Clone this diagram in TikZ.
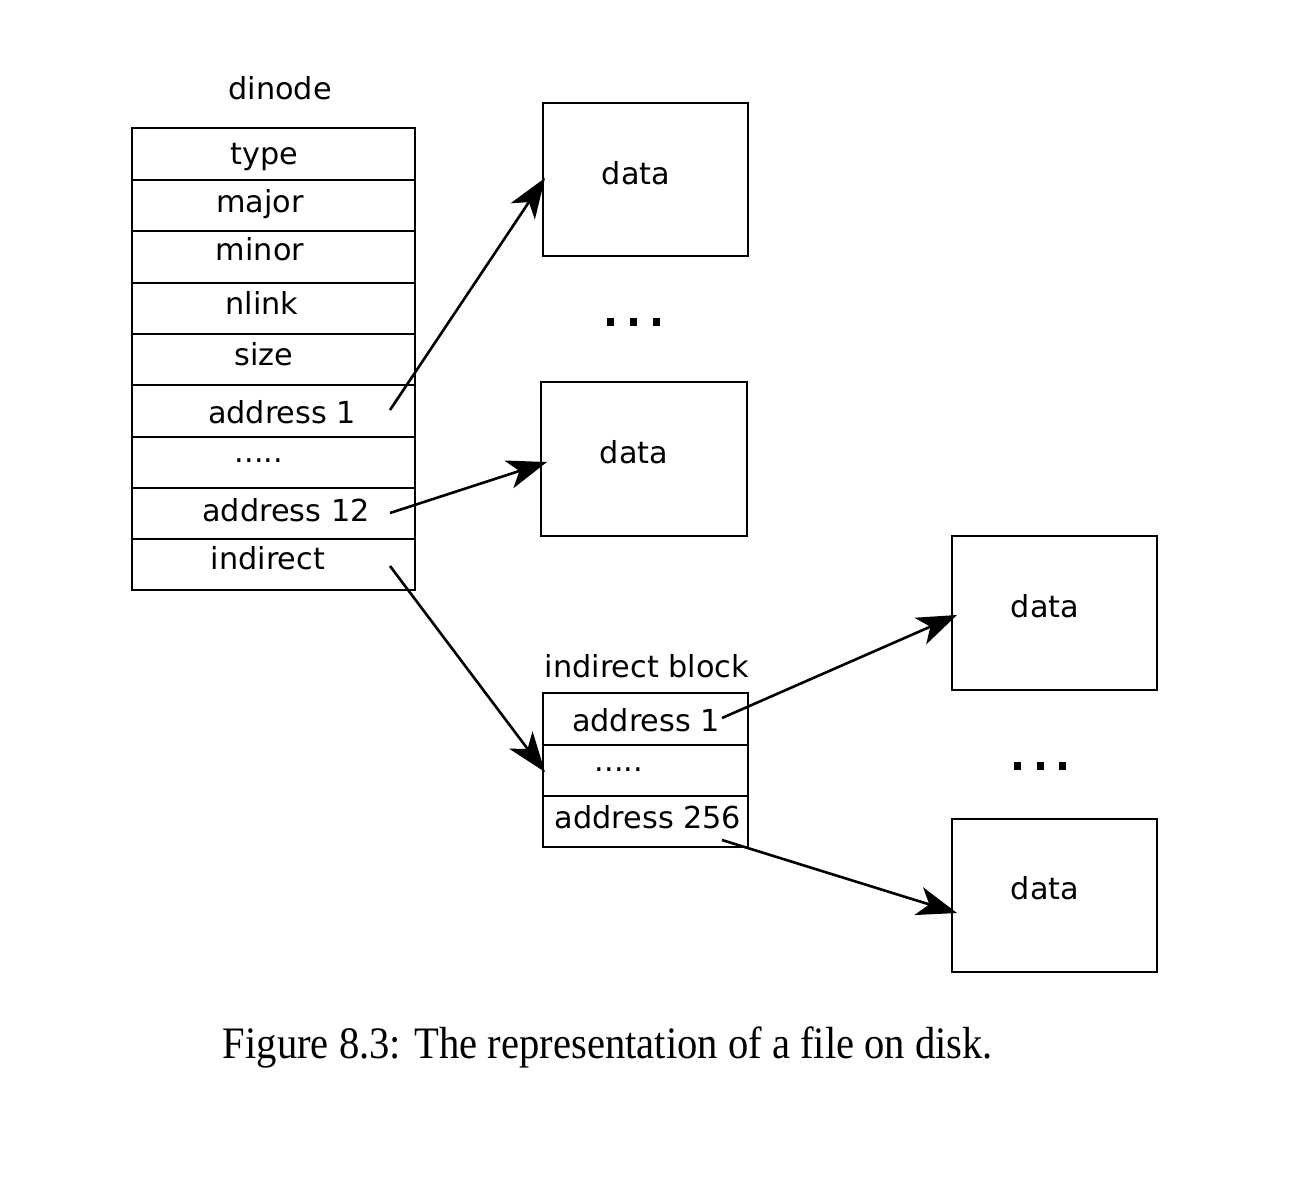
\documentclass[tikz,border=0pt]{standalone}
\usepackage{fontspec}
\usepackage{graphicx}
\setmainfont{DejaVu Sans}
\newfontfamily\capfont{Liberation Serif}
\usetikzlibrary{arrows.meta}
\tikzset{
  lbl/.style={anchor=base, inner sep=0pt, font=\fontsize{30.3}{30}\selectfont},
  outer/.style={draw, line width=2.8pt},
  inner/.style={line width=1.4pt},
  ptr/.style={line width=2.6pt, -{Stealth[length=40pt, width=29pt, inset=11pt]}},
  bigdot/.style={fill=black, minimum width=7pt, minimum height=8pt, inner sep=0pt},
}
\begin{document}
\begin{tikzpicture}[x=1pt, y=-1pt]
\useasboundingbox (0,0) rectangle (1301,1195);
% dinode
\node[lbl] (dn) at (280,99) {dinode};
\foreach \yy in {180,231,283,334,385,437,488,539} \draw[inner] (132,\yy) -- (415,\yy);
\draw[outer] (132,128) rectangle (415,590);
\node[lbl] (ty) at (264.5,164) {type};
\node[lbl] (ma) at (260,212.5) {major};
\node[lbl] (mi) at (260,260) {minor};
\node[lbl] (nl) at (262,314) {nlink};
\node[lbl] (sz) at (264,365) {size};
\node[lbl] (a1) at (282,423) {address 1};
\node[lbl] (d1) at (259,462) {.....};
\node[lbl] (a12) at (286,521) {address 12};
\node[lbl] (ind) at (268,569) {indirect};
% data boxes
\draw[outer] (543,103) rectangle (748,256);
\draw[outer] (541,382) rectangle (747,536);
\draw[outer] (952,536) rectangle (1157,690);
\draw[outer] (952,819) rectangle (1157,972);
\node[lbl] (da) at (636,184) {data};
\node[lbl] (db) at (634,463) {data};
\node[lbl] (dc) at (1045,617) {data};
\node[lbl] (dd) at (1045,899) {data};
% big dots
\foreach \xx in {610,633,656} \node[bigdot] at (\xx,322) {};
\foreach \xx in {1017,1040,1062} \node[bigdot] at (\xx,766) {};
% indirect block
\node[lbl] (ib) at (647,677) {indirect block};
\foreach \yy in {745,796} \draw[inner] (543,\yy) -- (748,\yy);
\draw[outer] (543,693) rectangle (748,847);
\node[lbl] (ia1) at (646,731) {address 1};
\node[lbl] (id) at (619,771) {.....};
\node[lbl] (ia2) at (648,828) {address 256};
% arrow endpoints
\coordinate (s1) at (390,410);
\coordinate (t1) at (545,178);
\coordinate (s2) at (390,513);
\coordinate (t2) at (547,462);
\coordinate (s3) at (390,566);
\coordinate (t3) at (545,772);
\coordinate (s4) at (722,718);
\coordinate (t4) at (957,615);
\coordinate (s5) at (722,840);
\coordinate (t5) at (957,913);
\draw[ptr] (s1) -- (t1);
\draw[ptr] (s2) -- (t2);
\draw[ptr] (s3) -- (t3);
\draw[ptr] (s4) -- (t4);
\draw[ptr] (s5) -- (t5);
% caption
\node[anchor=base, inner sep=0pt] (cap) at (608,1058) {\resizebox{770pt}{\height}{\capfont\fontsize{45}{45}\selectfont Figure 8.3: The representation of a file on disk.}};
\end{tikzpicture}
\end{document}
